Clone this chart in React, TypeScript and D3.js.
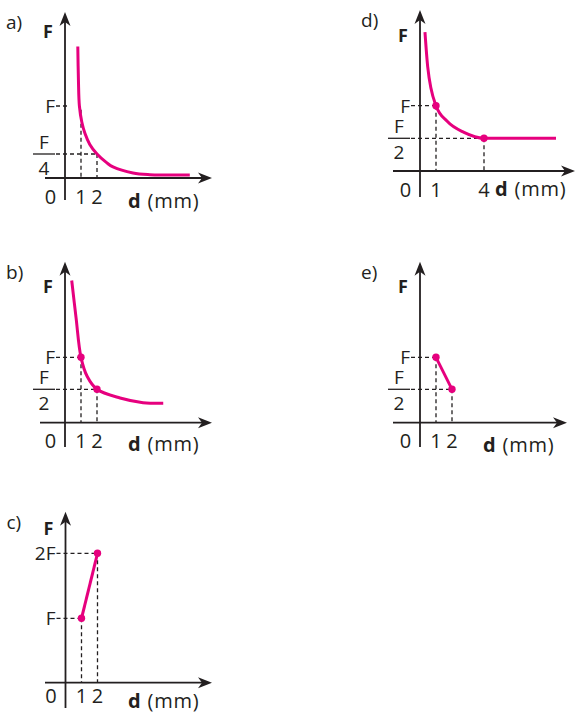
import React from "react";
import * as d3 from "d3";

type Pt = [number, number];

// distance d in mm, force in units of F
const curveA: Pt[] = [
  [0.8, 1.93], [0.84, 1.4], [0.9, 1.0], [1.05, 0.75], [1.25, 0.57], [1.55, 0.4],
  [2.0, 0.25], [2.6, 0.16], [3.0, 0.115], [4.25, 0.052], [5.3, 0.035], [7.8, 0.031],
];
const curveB: Pt[] = [
  [0.42, 2.2], [0.69, 1.62], [1, 1], [1.39, 0.7], [2, 0.5], [3.44, 0.37], [4.88, 0.3], [6.14, 0.29],
];
const lineC: Pt[] = [[1, 1], [2, 2]];
const curveD: Pt[] = [
  [0.31, 2.13], [0.48, 1.6], [1, 1], [1.7, 0.76], [2.75, 0.59], [4, 0.5], [8.5, 0.5],
];
const lineE: Pt[] = [[1, 1], [2, 0.5]];

const dotsB: Pt[] = [[1, 1], [2, 0.5]];
const dotsC: Pt[] = [[1, 1], [2, 2]];
const dotsD: Pt[] = [[1, 1], [4, 0.5]];
const dotsE: Pt[] = [[1, 1], [2, 0.5]];

const levelsA = [{ value: 0.25, label: "F/4" }, { value: 1, label: "F" }];
const levelsB = [{ value: 0.5, label: "F/2" }, { value: 1, label: "F" }];
const levelsC = [{ value: 1, label: "F" }, { value: 2, label: "2F" }];
const levelsD = [{ value: 0.5, label: "F/2" }, { value: 1, label: "F" }];
const levelsE = [{ value: 0.5, label: "F/2" }, { value: 1, label: "F" }];

const ticksA = [1, 2];
const ticksB = [1, 2];
const ticksC = [1, 2];
const ticksD = [1, 4];
const ticksE = [1, 2];

// horizontal guides: [F, d reached]; vertical guides: [d, F reached]
const hGuidesA: Pt[] = [[1, 0], [0.25, 2]];
const vGuidesA: Pt[] = [[1, 0.94], [2, 0.25]];
const hGuidesB: Pt[] = [[1, 1], [0.5, 2]];
const vGuidesB: Pt[] = [[1, 1], [2, 0.5]];
const hGuidesC: Pt[] = [[1, 1], [2, 2]];
const vGuidesC: Pt[] = [[1, 1], [2, 2]];
const hGuidesD: Pt[] = [[1, 1], [0.5, 4]];
const vGuidesD: Pt[] = [[1, 1], [4, 0.5]];
const hGuidesE: Pt[] = [[1, 1], [0.5, 2]];
const vGuidesE: Pt[] = [[1, 1], [2, 0.5]];

const PINK = "#e6007e";
const INK = "#231f20";
const FONT = "'Open Sans', sans-serif";

type Level = { value: number; label: string };

type PanelProps = {
  name: string;
  curve: Pt[];
  curveType: d3.CurveFactory;
  dots: Pt[];
  levels: Level[];
  ticks: number[];
  hGuides: Pt[];
  vGuides: Pt[];
  ox: number;
  oy: number;
  yRange: number[];
  yTop: number;
  yBottom: number;
  xLeft: number;
  xRight: number;
  nameY: number;
  titleY: number;
  tickY: number;
  unitX: number;
  unitY: number;
};

const Panel = (p: PanelProps) => {
  const x = d3.scaleLinear().domain([0, 1]).range([p.ox, p.ox + 16]);
  const y = d3
    .scaleLinear()
    .domain([0, ...p.levels.map((l) => l.value)])
    .range(p.yRange);

  const line = d3
    .line<Pt>()
    .x((d) => x(d[0]))
    .y((d) => y(d[1]))
    .curve(p.curveType);

  const nameX = p.ox - 59;
  const r = p.xRight;
  const t = p.yTop;

  return (
    <g fontFamily={FONT} fill={INK}>
      <text x={nameX} y={p.nameY} fontSize={19}>
        {p.name})
      </text>

      {/* dashed guides */}
      {p.hGuides.map(([f, d], i) => (
        <line
          key={"h" + i}
          x1={p.ox - 9}
          x2={Math.max(x(d), p.ox + 3)}
          y1={y(f)}
          y2={y(f)}
          stroke={INK}
          strokeWidth={1.3}
          strokeDasharray="4 3"
        />
      ))}
      {p.vGuides.map(([d, f], i) => (
        <line
          key={"v" + i}
          x1={x(d)}
          x2={x(d)}
          y1={y(f)}
          y2={p.oy}
          stroke={INK}
          strokeWidth={1.3}
          strokeDasharray="4 3"
        />
      ))}

      {/* axes */}
      <line x1={p.ox} x2={p.ox} y1={t + 6} y2={p.yBottom} stroke={INK} strokeWidth={1.8} />
      <line x1={p.xLeft} x2={r - 6} y1={p.oy} y2={p.oy} stroke={INK} strokeWidth={1.8} />
      <path
        d={`M${r},${p.oy} L${r - 14},${p.oy - 5.5} L${r - 10},${p.oy} L${r - 14},${p.oy + 5.5} Z`}
        fill={INK}
      />
      <path
        d={`M${p.ox},${t} L${p.ox - 5.5},${t + 14} L${p.ox},${t + 10} L${p.ox + 5.5},${t + 14} Z`}
        fill={INK}
      />

      {/* y labels */}
      <text x={p.ox - 17} y={p.titleY} fontSize={18} fontWeight="bold" textAnchor="middle">
        F
      </text>
      {p.levels.map((l) => {
        const ly = y(l.value);
        if (l.label.includes("/")) {
          const [num, den] = l.label.split("/");
          return (
            <g key={l.label}>
              <line x1={p.ox - 32} x2={p.ox - 10} y1={ly} y2={ly} stroke={INK} strokeWidth={1.3} />
              <text x={p.ox - 21} y={ly - 5} fontSize={19} textAnchor="middle">
                {num}
              </text>
              <text x={p.ox - 21} y={ly + 21} fontSize={19} textAnchor="middle">
                {den}
              </text>
            </g>
          );
        }
        return (
          <text key={l.label} x={p.ox - 10} y={ly + 7} fontSize={19} textAnchor="end">
            {l.label}
          </text>
        );
      })}

      {/* x labels */}
      <text x={p.ox - 14.5} y={p.tickY} fontSize={20} textAnchor="middle">
        0
      </text>
      {p.ticks.map((v) => (
        <text key={v} x={x(v)} y={p.tickY} fontSize={20} textAnchor="middle">
          {v}
        </text>
      ))}
      <text x={p.unitX} y={p.unitY} fontSize={20} letterSpacing={0.8}>
        <tspan fontWeight="bold">d</tspan> (mm)
      </text>

      {/* data */}
      <path d={line(p.curve) || ""} fill="none" stroke={PINK} strokeWidth={3} />
      {p.dots.map(([d, f], i) => (
        <circle key={i} cx={x(d)} cy={y(f)} r={3.7} fill={PINK} />
      ))}
    </g>
  );
};

export default function App() {
  const smooth = d3.curveCatmullRom.alpha(0.5);
  return (
    <svg
      width={576}
      height={717}
      style={{ position: "absolute", left: 0, top: 0, background: "#fff" }}
    >
      <rect width={576} height={717} fill="#fff" />
      <Panel
        name="a" curve={curveA} curveType={smooth} dots={[]} levels={levelsA} ticks={ticksA}
        hGuides={hGuidesA} vGuides={vGuidesA}
        ox={65} oy={178} yRange={[178, 154, 106]} yTop={12} yBottom={200}
        xLeft={45} xRight={212} nameY={29} titleY={38} tickY={204} unitX={128} unitY={208}
      />
      <Panel
        name="b" curve={curveB} curveType={smooth} dots={dotsB} levels={levelsB} ticks={ticksB}
        hGuides={hGuidesB} vGuides={vGuidesB}
        ox={65} oy={422.7} yRange={[422.7, 389.3, 357.3]} yTop={261.7} yBottom={447}
        xLeft={40} xRight={212} nameY={279} titleY={293} tickY={448} unitX={128} unitY={451}
      />
      <Panel
        name="c" curve={lineC} curveType={d3.curveLinear} dots={dotsC} levels={levelsC} ticks={ticksC}
        hGuides={hGuidesC} vGuides={vGuidesC}
        ox={65.5} oy={682.7} yRange={[682.7, 618.3, 553.3]} yTop={511.7} yBottom={708}
        xLeft={45} xRight={212} nameY={529} titleY={534.5} tickY={703} unitX={128} unitY={708}
      />
      <Panel
        name="d" curve={curveD} curveType={d3.curveMonotoneX} dots={dotsD} levels={levelsD} ticks={ticksD}
        hGuides={hGuidesD} vGuides={vGuidesD}
        ox={420} oy={171} yRange={[171, 138.3, 105.7]} yTop={10} yBottom={197}
        xLeft={393} xRight={575} nameY={27} titleY={42} tickY={196.7} unitX={495} unitY={196}
      />
      <Panel
        name="e" curve={lineE} curveType={d3.curveLinear} dots={dotsE} levels={levelsE} ticks={ticksE}
        hGuides={hGuidesE} vGuides={vGuidesE}
        ox={420} oy={422.7} yRange={[422.7, 389.3, 357.3]} yTop={261.7} yBottom={447}
        xLeft={393} xRight={567} nameY={279} titleY={293} tickY={448} unitX={483} unitY={452}
      />
    </svg>
  );
}
